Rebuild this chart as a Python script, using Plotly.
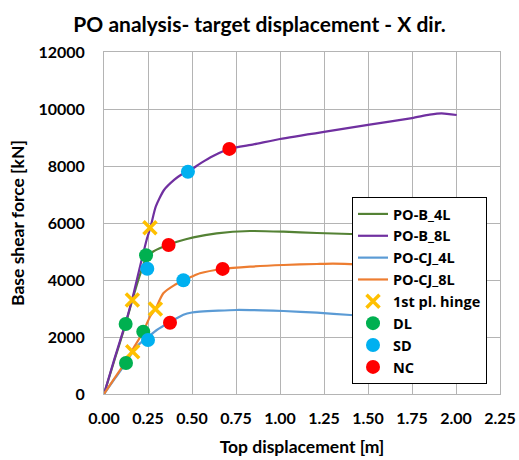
import plotly.graph_objects as go

# ---------------- data ----------------
x_ticks = [0, 0.25, 0.5, 0.75, 1.0, 1.25, 1.5, 1.75, 2.0, 2.25]
x_tick_labels = ["0.00", "0.25", "0.50", "0.75", "1.00", "1.25", "1.50", "1.75", "2.00", "2.25"]
y_ticks = [0, 2000, 4000, 6000, 8000, 10000, 12000]
y_tick_labels = ["0", "2000", "4000", "6000", "8000", "10000", "12000"]

pob4_x = [0, 0.06, 0.123, 0.161, 0.20, 0.24, 0.28, 0.33, 0.367, 0.42, 0.508, 0.64, 0.83, 1.02, 1.21, 1.40, 1.55]
pob4_y = [0, 1200, 2456, 3299, 4100, 4780, 5000, 5150, 5230, 5350, 5498, 5638, 5719, 5696, 5650, 5614, 5590]

pob8_x = [0, 0.06, 0.123, 0.161, 0.20, 0.242, 0.265, 0.294, 0.341, 0.40, 0.436, 0.477, 0.55, 0.62, 0.712, 0.85, 1.0, 1.25, 1.5, 1.75, 1.85, 1.918, 2.004]
pob8_y = [0, 1250, 2500, 3350, 4350, 5404, 5871, 6573, 7158, 7520, 7685, 7800, 8100, 8350, 8600, 8760, 8948, 9200, 9440, 9680, 9800, 9849, 9790]

pocj4_x = [0, 0.06, 0.125, 0.163, 0.20, 0.25, 0.30, 0.375, 0.451, 0.50, 0.545, 0.65, 0.754, 0.90, 1.02, 1.21, 1.40, 1.55]
pocj4_y = [0, 530, 1088, 1485, 1750, 2000, 2246, 2520, 2780, 2860, 2888, 2925, 2948, 2935, 2912, 2854, 2772, 2720]

pocj8_x = [0, 0.06, 0.125, 0.163, 0.223, 0.261, 0.292, 0.337, 0.40, 0.451, 0.50, 0.545, 0.674, 0.83, 1.02, 1.21, 1.30, 1.40, 1.55]
pocj8_y = [0, 560, 1150, 1560, 2187, 2713, 2983, 3533, 3820, 3977, 4120, 4235, 4386, 4468, 4527, 4562, 4575, 4560, 4520]

hinge_x = [0.261, 0.161, 0.292, 0.163]
hinge_y = [5835, 3299, 2983, 1485]
dl_x = [0.239, 0.123, 0.223, 0.125]
dl_y = [4867, 2456, 2187, 1088]
sd_x = [0.477, 0.246, 0.451, 0.250]
sd_y = [7800, 4397, 3990, 1895]
nc_x = [0.712, 0.367, 0.674, 0.375]
nc_y = [8600, 5228, 4390, 2502]

# ---------------- figure ----------------
FONT = "Lato"
fig = go.Figure()

lines = [
    ("PO-B_4L", pob4_x, pob4_y, "#548235"),
    ("PO-B_8L", pob8_x, pob8_y, "#7030A0"),
    ("PO-CJ_4L", pocj4_x, pocj4_y, "#5B9BD5"),
    ("PO-CJ_8L", pocj8_x, pocj8_y, "#ED7D31"),
]
for name, xs, ys, col in lines:
    fig.add_trace(go.Scatter(x=xs, y=ys, mode="lines", name=name,
                             line=dict(color=col, width=2.2, shape="spline", smoothing=0.6)))

fig.add_trace(go.Scatter(x=hinge_x, y=hinge_y, mode="markers", name="1st pl. hinge",
                         marker=dict(symbol="x-thin", size=13, color="#FFC000",
                                     line=dict(width=3.5, color="#FFC000"))))
for name, xs, ys, col in [("DL", dl_x, dl_y, "#00B050"),
                          ("SD", sd_x, sd_y, "#00B0F0"),
                          ("NC", nc_x, nc_y, "#FF0000")]:
    fig.add_trace(go.Scatter(x=xs, y=ys, mode="markers", name=name,
                             marker=dict(symbol="circle", size=14, color=col, line=dict(width=0))))

axis_common = dict(showgrid=True, gridcolor="#B4B4B4", gridwidth=1,
                   showline=True, linecolor="#B4B4B4", linewidth=1, mirror=True,
                   zeroline=False, ticks="", automargin=False,
                   tickfont=dict(family=FONT, size=16, color="#000000", weight="bold"))

fig.update_layout(
    width=519, height=460,
    margin=dict(l=104, r=19, t=52, b=66, autoexpand=False),
    paper_bgcolor="white", plot_bgcolor="white",
    font=dict(family=FONT, color="#000000"),
    title=dict(text="PO analysis- target displacement - X dir.",
               font=dict(family=FONT, size=21, color="#000000", weight="bold"),
               x=0.5, xref="container", xanchor="center",
               y=1 - 25 / 460, yref="container", yanchor="middle"),
    xaxis=dict(range=[0, 2.25], tickvals=x_ticks, ticktext=x_tick_labels,
               ticklabelstandoff=10,
               title=dict(text="Top displacement [m]", standoff=14,
                          font=dict(family=FONT, size=17.5, color="#000000", weight="bold")),
               **axis_common),
    yaxis=dict(range=[0, 12000], tickvals=y_ticks, ticktext=y_tick_labels,
               ticklabelstandoff=15,
               title=dict(text="Base shear force [kN]", standoff=9,
                          font=dict(family=FONT, size=17.5, color="#000000", weight="bold")),
               **axis_common),
    legend=dict(x=(352 - 104) / 396, y=(394 - 197) / 342, xanchor="left", yanchor="top",
                bgcolor="white", bordercolor="#000000", borderwidth=1,
                font=dict(family="Open Sans", size=14.5, color="#000000", weight="bold"),
                itemwidth=30, tracegroupgap=0),
    showlegend=True,
)

fig.write_html("out.html")
